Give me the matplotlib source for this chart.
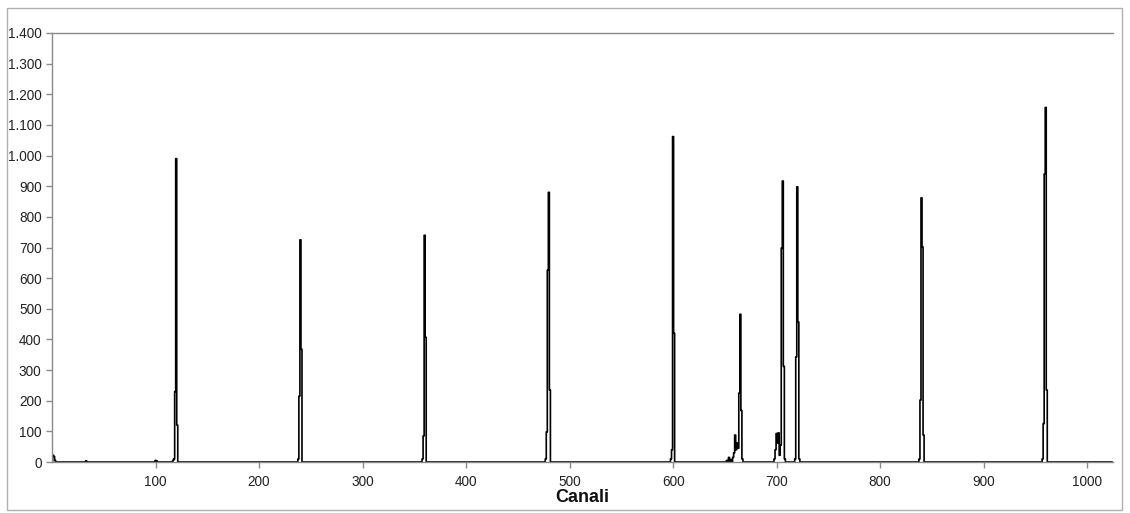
import numpy as np
import matplotlib
matplotlib.use("Agg")
import matplotlib.pyplot as plt
from matplotlib.ticker import FuncFormatter
from matplotlib.patches import Rectangle

# Non-zero channel counts (all other channels are 0)
peak_channels = [1, 2, 3, 33, 100, 101,
                 117, 118, 119, 120, 121,
                 238, 239, 240, 241,
                 358, 359, 360, 361,
                 477, 478, 479, 480, 481,
                 598, 599, 600, 601,
                 652, 654, 656, 658, 659, 660, 661, 662, 663, 664, 665, 666, 667,
                 698, 699, 700, 701, 702, 703, 704, 705, 706, 707, 708,
                 718, 719, 720, 721, 722,
                 838, 839, 840, 841, 842,
                 957, 958, 959, 960, 961]
peak_counts = [22, 18, 5, 4, 5, 4,
               5, 10, 230, 990, 120,
               10, 215, 725, 368,
               10, 85, 740, 407,
               10, 98, 626, 880, 235,
               10, 40, 1062, 420,
               5, 15, 8, 15, 30, 88, 40, 62, 45, 225, 482, 168, 10,
               10, 40, 93, 62, 95, 22, 55, 698, 917, 312, 10,
               10, 343, 898, 457, 10,
               10, 202, 862, 702, 88,
               10, 125, 940, 1157, 235]

n_channels = 1025
x_ticks = [100, 200, 300, 400, 500, 600, 700, 800, 900, 1000]
y_ticks = list(range(0, 1401, 100))
x_label = "Canali"

counts = np.zeros(n_channels)
counts[peak_channels] = peak_counts
channels = np.arange(n_channels)

fig = plt.figure(figsize=(11.3, 5.13), dpi=100)
ax = fig.add_axes([52/1130, 1-462/513, (1113-52)/1130, (462-33)/513])

ax.plot(channels, counts, drawstyle="steps-mid", color="black", lw=1.2)

ax.set_xlim(0, 1025)
ax.set_ylim(0, 1400)
ax.set_xticks(x_ticks)
ax.set_yticks(y_ticks)
ax.yaxis.set_major_formatter(FuncFormatter(lambda v, p: f"{int(v):,}".replace(",", ".")))

for s in ["top", "left", "bottom"]:
    ax.spines[s].set_color("#8a8a8a")
    ax.spines[s].set_linewidth(1.0)
ax.spines["right"].set_visible(False)

ax.tick_params(axis="both", colors="#8a8a8a", length=4, width=1, labelsize=9.8,
               labelcolor="#222222")
ax.tick_params(axis="x", pad=5)
for lab in ax.get_xticklabels() + ax.get_yticklabels():
    lab.set_fontfamily("Liberation Sans")

ax.set_xlabel(x_label, fontsize=13, fontweight="bold", family="Liberation Sans",
              color="#111111", labelpad=0)

fig.patches.append(Rectangle((7/1130, 1-510/513), (1122-7)/1130, (510-8)/513,
                             transform=fig.transFigure, fill=False,
                             edgecolor="#b0b0b0", lw=1.0))

fig.savefig("out.png", dpi=100, facecolor="white")
